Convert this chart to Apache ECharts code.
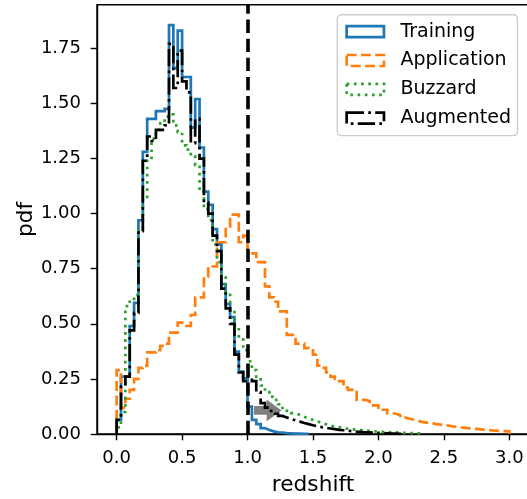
<!DOCTYPE html>
<html>
<head>
    <meta http-equiv="Content-Type" content="text/html; charset=utf-8" />
    <title>redshift pdf</title>
    <script src="https://cdn.jsdelivr.net/npm/echarts@6.0.0/dist/echarts.min.js"></script>
    <style>
        html, body { margin: 0; padding: 0; background: #fff; }
    </style>
</head>
<body>
    <div id="main" style="width: 527px;height:499px;"></div>
    <script type="text/javascript">

    // histogram bins: all samples share edges 0, 1/30, 2/30, ...
    var binStart = 0;
    var binWidth = 1 / 30;

    // pdf per bin
    var training = [0.064, 0.26, 0.26, 0.49, 0.595, 0.97, 1.28, 1.43, 1.43, 1.465, 1.465, 1.475, 1.855, 1.66, 1.83, 1.62, 1.62, 1.39, 1.52, 1.30,
        1.10, 1.04, 0.93, 0.86, 0.68, 0.59, 0.53, 0.374, 0.283, 0.253, 0.124, 0.064, 0.045, 0.027, 0.018, 0.012, 0.008, 0.006, 0.004, 0.003,
        0.002, 0.002, 0.001, 0.001];

    var application = [0.29, 0.12, 0.16, 0.20, 0.25, 0.30, 0.31, 0.37, 0.37, 0.38, 0.40, 0.41, 0.46, 0.46, 0.505, 0.50, 0.49, 0.54, 0.62, 0.62,
        0.715, 0.75, 0.76, 0.87, 0.87, 0.93, 0.995, 0.995, 0.87, 0.90, 0.82, 0.82, 0.78, 0.78, 0.67, 0.62, 0.60, 0.556, 0.556, 0.45,
        0.45, 0.41, 0.41, 0.39, 0.38, 0.36, 0.31, 0.30, 0.28, 0.26, 0.25, 0.24, 0.21, 0.20, 0.19, 0.155, 0.155, 0.15, 0.13, 0.13,
        0.12, 0.11, 0.095, 0.092, 0.085, 0.075, 0.07, 0.066, 0.06, 0.055, 0.052, 0.05, 0.046, 0.043, 0.04, 0.038, 0.035, 0.033, 0.03, 0.028,
        0.025, 0.023, 0.022, 0.02, 0.018, 0.016, 0.015, 0.014, 0.013, 0.012];

    var buzzard = [0.03, 0.10, 0.58, 0.60, 0.63, 0.93, 1.07, 1.24, 1.34, 1.38, 1.41, 1.44, 1.45, 1.40, 1.37, 1.31, 1.29, 1.26, 1.22, 1.10,
        1.02, 0.97, 0.86, 0.78, 0.71, 0.64, 0.56, 0.49, 0.43, 0.38, 0.33, 0.29, 0.26, 0.22, 0.19, 0.17, 0.155, 0.135, 0.118, 0.105,
        0.095, 0.086, 0.078, 0.071, 0.064, 0.058, 0.05, 0.044, 0.038, 0.033, 0.03, 0.027, 0.024, 0.021, 0.019, 0.018, 0.016, 0.014, 0.012, 0.011,
        0.01, 0.009, 0.008, 0.007, 0.006, 0.005, 0.004, 0.004, 0.003, 0.002];

    var augmented = [0.064, 0.215, 0.26, 0.47, 0.55, 0.92, 1.24, 1.35, 1.33, 1.38, 1.38, 1.40, 1.77, 1.57, 1.74, 1.60, 1.55, 1.32, 1.43, 1.25,
        1.05, 1.00, 0.90, 0.83, 0.66, 0.57, 0.50, 0.36, 0.28, 0.24, 0.26, 0.24, 0.19, 0.14, 0.12, 0.105, 0.092, 0.082, 0.075, 0.068,
        0.062, 0.056, 0.05, 0.045, 0.04, 0.035, 0.031, 0.028, 0.025, 0.022, 0.019, 0.017, 0.015, 0.013, 0.011, 0.01, 0.008, 0.007, 0.006, 0.005,
        0.004, 0.003, 0.002, 0.002, 0.001, 0.001];

    var seriesNames = ['Training', 'Application', 'Buzzard', 'Augmented'];
    var xTicks = [0, 0.5, 1, 1.5, 2, 2.5, 3];
    var yTicks = [0, 0.25, 0.5, 0.75, 1, 1.25, 1.5, 1.75];
    var cutRedshift = 1.0;
    var arrowFrom = [1.05, 0.107];
    var arrowTo = [1.26, 0.107];

    var FONT = 'DejaVu Sans';
    var LW = 2.7;

    // outline of a step histogram: up at first edge, across each bin, down at last edge
    function stepData(vals) {
        var pts = [[binStart, 0]];
        for (var i = 0; i < vals.length; i++) {
            pts.push([binStart + (i + 1) * binWidth, vals[i]]);
        }
        pts.push([binStart + vals.length * binWidth, 0]);
        return pts;
    }

    var styles = [
        { color: '#1f77b4', type: 'solid' },
        { color: '#ff7f0e', type: [10, 4.3] },
        { color: '#2ca02c', type: [2.7, 4.5] },
        { color: '#000000', type: [17.3, 4.3, 2.7, 4.3] }
    ];
    var allData = [training, application, buzzard, augmented];

    var series = allData.map(function (vals, k) {
        return {
            name: seriesNames[k],
            type: 'line',
            step: 'start',
            symbol: 'none',
            showSymbol: false,
            silent: true,
            data: stepData(vals),
            itemStyle: { color: styles[k].color },
            lineStyle: { color: styles[k].color, width: LW, type: styles[k].type, cap: 'butt', join: 'miter' }
        };
    });

    // dashed cut at z = 1
    series.push({
        type: 'line',
        data: [],
        silent: true,
        markLine: {
            silent: true,
            symbol: ['none', 'none'],
            label: { show: false },
            lineStyle: { color: '#000', width: 3.6, type: [13.3, 5.8] },
            data: [{ xAxis: cutRedshift }]
        }
    });

    // grey arrow
    series.push({
        type: 'custom',
        silent: true,
        encode: { x: [0, 2], y: [1, 3] },
        data: [[arrowFrom[0], arrowFrom[1], arrowTo[0], arrowTo[1]]],
        renderItem: function (params, api) {
            var x0 = api.value(0), y = api.value(1), x1 = api.value(2);
            var bw = 0.02, hw = 0.049, hl = 0.114;
            var pts = [[x0, y + bw], [x1 - hl, y + bw], [x1 - hl, y + hw], [x1, y],
                       [x1 - hl, y - hw], [x1 - hl, y - bw], [x0, y - bw]].map(function (p) { return api.coord(p); });
            return { type: 'polygon', shape: { points: pts }, style: { fill: 'rgba(0,0,0,0.5)' } };
        }
    });

    var myChart = echarts.init(document.getElementById('main'), null, { renderer: 'canvas' });

    var option = {
        animation: false,
        backgroundColor: '#ffffff',
        grid: {
            left: 97, top: 4.7, width: 432, height: 429.3,
            outerBoundsMode: 'none', containLabel: false,
            show: true, borderColor: '#000', borderWidth: 1.4, backgroundColor: 'transparent'
        },
        legend: {
            orient: 'vertical',
            left: 337.3, top: 14.7,
            icon: 'rect',
            itemWidth: 37.3, itemHeight: 11, itemGap: 9.8,
            padding: [7.5, 6.5, 8, 8],
            selectedMode: false,
            backgroundColor: 'rgba(255,255,255,0.8)',
            borderColor: '#cccccc', borderWidth: 1.4, borderRadius: 4,
            textStyle: { fontFamily: FONT, fontSize: 19, color: '#000', padding: [0, 0, 0, 11.5] },
            data: seriesNames.map(function (n, k) {
                return {
                    name: n,
                    itemStyle: { color: 'rgba(0,0,0,0)', borderColor: styles[k].color, borderWidth: LW, borderType: styles[k].type }
                };
            })
        },
        xAxis: {
            type: 'value',
            min: -0.15, max: 3.15,
            name: 'redshift', nameLocation: 'middle', nameGap: 40, nameMoveOverlap: false,
            nameTextStyle: { fontFamily: FONT, fontSize: 21.7, color: '#000' },
            axisLine: { onZero: false, lineStyle: { color: '#000', width: 1.4 } },
            axisTick: { customValues: xTicks, length: 6.3, lineStyle: { color: '#000', width: 1.4 } },
            axisLabel: {
                customValues: xTicks, margin: 15, fontFamily: FONT, fontSize: 18, color: '#000',
                formatter: function (v) { return v.toFixed(1); }
            },
            splitLine: { show: false }
        },
        yAxis: {
            type: 'value',
            min: 0, max: 1.948,
            name: 'pdf', nameLocation: 'middle', nameGap: 60, nameMoveOverlap: false,
            nameTextStyle: { fontFamily: FONT, fontSize: 21.7, color: '#000' },
            axisLine: { show: true, onZero: false, lineStyle: { color: '#000', width: 1.4 } },
            axisTick: { show: true, customValues: yTicks, length: 6.3, lineStyle: { color: '#000', width: 1.4 } },
            axisLabel: {
                customValues: yTicks, margin: 16, fontFamily: FONT, fontSize: 18, color: '#000',
                formatter: function (v) { return v.toFixed(2); }
            },
            splitLine: { show: false }
        },
        series: series
    };

    myChart.setOption(option);
    </script>
</body>
</html>
